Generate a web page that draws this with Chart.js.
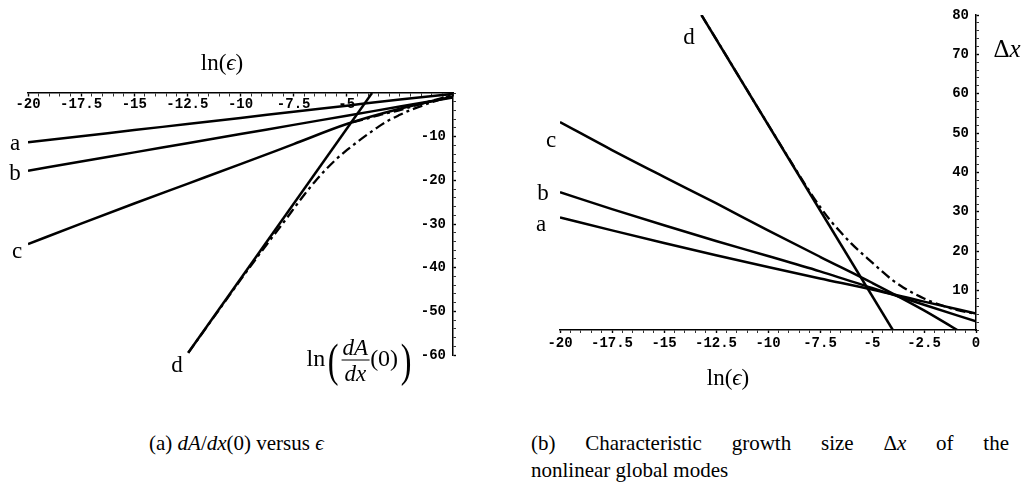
<!DOCTYPE html>
<html>
<head>
<meta charset="utf-8">
<script src="https://cdn.jsdelivr.net/npm/chart.js@4.4.1/dist/chart.umd.min.js"></script>
<style>
  body { margin: 0; background: #fff; width: 1035px; height: 486px; position: relative; overflow: hidden;
         font-family: "Liberation Serif", "DejaVu Serif", serif; color: #000; }
  canvas { position: absolute; top: 0; }
  #left { left: 0; }
  #right { left: 500px; }
  .lab { position: absolute; font-size: 23px; line-height: 1; white-space: nowrap; transform: translate(-50%, -50%); }
  .cap { position: absolute; font-size: 21px; line-height: 1; white-space: nowrap; }
  .frac { display: inline-block; vertical-align: middle; text-align: center; font-size: 23px; margin: 0 1px; }
  .frac span { display: block; padding: 0 1px; }
  .frac .num { border-bottom: 1.3px solid #000; padding-bottom: 1px; }
  .frac .den { padding-top: 1px; }
  .big { display: inline-block; font-size: 46px; vertical-align: middle; transform: scaleX(0.7); line-height: 1; }
</style>
</head>
<body>
<canvas id="left" width="500" height="400"></canvas>
<canvas id="right" width="535" height="400"></canvas>

<div class="lab" style="left:222px;top:62px">ln(<i>ϵ</i>)</div>
<div class="lab" style="left:360px;top:360px;font-size:24px">ln<span class="big">(</span><span class="frac"><span class="num"><i>dA</i></span><span class="den"><i>dx</i></span></span>(0)<span class="big">)</span></div>
<div class="lab" style="left:15px;top:142px">a</div>
<div class="lab" style="left:15px;top:172px">b</div>
<div class="lab" style="left:17px;top:250px">c</div>
<div class="lab" style="left:177px;top:364px">d</div>

<div class="lab" style="left:1007px;top:48px;font-size:25px"><span style="font-style:normal">Δ</span><i>x</i></div>
<div class="lab" style="left:728px;top:377px">ln(<i>ϵ</i>)</div>
<div class="lab" style="left:541px;top:223px">a</div>
<div class="lab" style="left:543px;top:192px">b</div>
<div class="lab" style="left:551px;top:139px">c</div>
<div class="lab" style="left:689px;top:36px">d</div>

<div class="cap" style="left:149px;top:433px">(a) <i>dA</i>/<i>dx</i>(0) versus <i>ϵ</i></div>
<div class="cap" style="left:531px;top:433px;width:478px;text-align:justify;text-align-last:justify">(b) Characteristic growth size Δ<i>x</i> of the</div>
<div class="cap" style="left:531px;top:460px">nonlinear global modes</div>

<script>
// ln(eps) grid shared by the a, b, c curves
const lnEps = [-20, -17.5, -15, -12.5, -10, -7.5, -5, -2.5, 0];

// (a) ln(dA/dx(0)) versus ln(eps)
const slopeA = [-11.3, -9.9, -8.5, -7.1, -5.7, -4.3, -2.9, -1.5, -0.2];
const slopeB = [-17.8, -15.7, -13.6, -11.5, -9.4, -7.3, -5.2, -3.1, -1.0];
const slopeC = [-34.6, -29.9, -25.3, -20.8, -16.3, -11.7, -7.1, -3.6, -0.8];
const slopeDX = [-12.46, -3.81];
const slopeD = [-59.5, 0];
const slopeNumX = [-12.46, -11, -10, -9, -8, -7, -6.5, -6, -5.5, -5, -4.5, -4, -3.5, -3, -2.5, -2, -1.5, -1, -0.5, 0];
const slopeNum = [-59.5, -49.6, -42.8, -36.2, -29.8, -23.3, -20.3, -17.6, -15.2, -13.1, -11.2, -9.4, -7.7, -6.2, -5.0, -3.9, -3.0, -2.1, -1.3, -0.5];
const slopeNum2X = [-4.7, -4, -3.5, -3, -2.5, -2, -1.5, -1, -0.5, 0];
const slopeNum2 = [-6.7, -5.8, -5.1, -4.5, -3.9, -3.2, -2.5, -1.8, -1.1, -0.4];

// (b) growth size dx versus ln(eps)
const sizeA = [28.6, 25.3, 22.1, 19.0, 16.0, 13.1, 10.3, 7.2, 4.2];
const sizeB = [35.0, 30.7, 26.6, 22.6, 18.8, 14.9, 10.7, 6.4, 2.2];
const sizeCX = [-20, -17.5, -15, -12.5, -10, -7.5, -5, -2.5, -0.9];
const sizeC = [52.8, 45.7, 38.9, 32.2, 25.3, 18.6, 12.0, 5.0, 0];
const sizeDX = [-13.2, -4.0];
const sizeD = [80, 0];
const sizeNumX = [-13.2, -12, -11, -10, -9, -8, -7.5, -7, -6.5, -6, -5.5, -5, -4.5, -4, -3.5, -3, -2.5, -2, -1.5, -1, -0.5, 0];
const sizeNum = [80, 69.6, 60.9, 52.2, 43.6, 35.2, 31.3, 27.8, 24.8, 22.0, 19.5, 17.2, 14.8, 12.6, 10.8, 9.3, 8.0, 6.9, 6.0, 5.2, 4.6, 4.1];

// tick labels
const leftXTicks = [-20, -17.5, -15, -12.5, -10, -7.5, -5];
const leftYTicks = [-10, -20, -30, -40, -50, -60];
const rightXTicks = [-20, -17.5, -15, -12.5, -10, -7.5, -5, -2.5, 0];
const rightYTicks = [10, 20, 30, 40, 50, 60, 70, 80];

Chart.defaults.color = "#000";
const tickFont = { family: "'Liberation Mono', 'DejaVu Sans Mono', monospace", size: 14, weight: "bold", lineHeight: 1 };

function pts(xs, ys) {
  return xs.map((x, i) => ({ x: x, y: ys[i] }));
}

function solid(xs, ys) {
  return { data: pts(xs, ys), borderColor: "#000", borderWidth: 2.5, pointRadius: 0, cubicInterpolationMode: "monotone", fill: false };
}

function dashDot(xs, ys) {
  return { data: pts(xs, ys), borderColor: "#000", borderWidth: 2.3, borderDash: [10, 4, 3, 4], pointRadius: 0, cubicInterpolationMode: "monotone", fill: false };
}

function hasTick(list, v) {
  return list.some((t) => Math.abs(t - v) < 1e-6);
}

function axisGrid(majors) {
  return {
    drawOnChartArea: false,
    tickLength: 3,
    tickColor: "#000",
    tickWidth: (c) => (c.tick && hasTick(majors, c.tick.value) ? 1.4 : 0.8),
  };
}

function baseOptions(padding, scales) {
  return {
    responsive: false,
    animation: false,
    events: [],
    layout: { padding: padding },
    plugins: { legend: { display: false }, tooltip: { enabled: false } },
    scales: scales,
  };
}

new Chart(document.getElementById("left"), {
  type: "line",
  data: {
    datasets: [
      solid(lnEps, slopeA),
      solid(lnEps, slopeB),
      solid(lnEps, slopeC),
      solid(slopeDX, slopeD),
      dashDot(slopeNumX, slopeNum),
      dashDot(slopeNum2X, slopeNum2),
    ],
  },
  options: baseOptions({ left: 28, top: 93, right: 41, bottom: 45 }, {
    x: {
      type: "linear",
      position: { y: 0 },
      min: -20,
      max: 0,
      border: { color: "#000", width: 1.5 },
      grid: axisGrid(leftXTicks),
      ticks: {
        stepSize: 0.5,
        autoSkip: false,
        maxRotation: 0,
        padding: 1,
        font: tickFont,
        callback: (v) => (hasTick(leftXTicks, v) ? String(v) : ""),
      },
    },
    y: {
      type: "linear",
      position: "right",
      min: -60,
      max: 0,
      border: { color: "#000", width: 1.5 },
      grid: axisGrid(leftYTicks),
      afterFit: (s) => { s.width = 6; },
      ticks: {
        stepSize: 2,
        autoSkip: false,
        mirror: true,
        padding: -7,
        font: tickFont,
        callback: (v) => (hasTick(leftYTicks, v) ? String(v) : ""),
      },
    },
  }),
});

new Chart(document.getElementById("right"), {
  type: "line",
  data: {
    datasets: [
      solid(lnEps, sizeA),
      solid(lnEps, sizeB),
      solid(sizeCX, sizeC),
      solid(sizeDX, sizeD),
      dashDot(sizeNumX, sizeNum),
    ],
  },
  options: baseOptions({ left: 60, top: 15, right: 53, bottom: 45 }, {
    x: {
      type: "linear",
      position: "bottom",
      min: -20,
      max: 0,
      border: { color: "#000", width: 1.5 },
      grid: axisGrid(rightXTicks),
      afterFit: (s) => { s.height = 25; },
      ticks: {
        stepSize: 0.5,
        autoSkip: false,
        maxRotation: 0,
        padding: 3,
        font: tickFont,
        callback: (v) => (hasTick(rightXTicks, v) ? String(v) : ""),
      },
    },
    y: {
      type: "linear",
      position: "right",
      min: 0,
      max: 80,
      border: { color: "#000", width: 1.5 },
      grid: axisGrid(rightYTicks),
      afterFit: (s) => { s.width = 6; },
      ticks: {
        stepSize: 2,
        autoSkip: false,
        mirror: true,
        padding: -7,
        font: tickFont,
        callback: (v) => (hasTick(rightYTicks, v) ? String(v) : ""),
      },
    },
  }),
});
</script>
</body>
</html>
